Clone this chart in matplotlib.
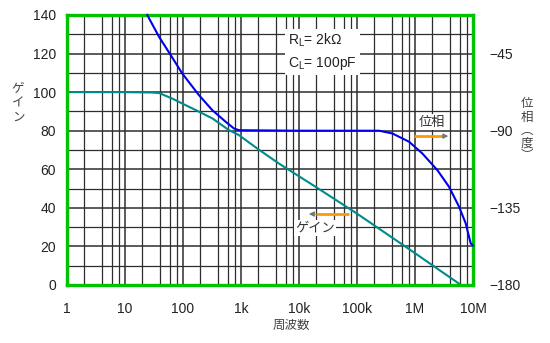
import numpy as np
import matplotlib
matplotlib.use("Agg")
import matplotlib.pyplot as plt
from matplotlib.ticker import FixedLocator, NullFormatter

plt.rcParams['font.family'] = ['Liberation Sans', 'Noto Sans CJK JP', 'DejaVu Sans']

# gain (dB) vs frequency
gain_freq = [1, 10, 30, 39, 65, 97, 166, 320, 620, 924, 1.9e3, 4.5e3, 1.96e4, 1e5, 1e6, 1.96e6, 6.2e6]
gain_db = [100, 100, 99.8, 99.5, 96.7, 94.1, 90.7, 86.4, 80.3, 77.7, 70.8, 63, 50.8, 37, 16.5, 10.4, 0]

# phase (deg) vs frequency
phase_freq = [24.2, 38.6, 61.4, 97, 189, 320, 545, 757, 924, 1e4, 1e5, 2.4e5, 4.07e5, 7.88e5,
              1.34e6, 2.43e6, 3.86e6, 5.74e6, 7.48e6, 9.12e6, 1e7]
phase_deg = [-22.5, -35.2, -45.9, -56.6, -69.3, -78, -84.8, -88.7, -89.7, -90, -90, -90, -91.6, -96.4,
             -103.3, -113, -122.7, -134.3, -144, -155.7, -157]

x_ticks = [1, 10, 100, 1e3, 1e4, 1e5, 1e6, 1e7]
x_labels = ['1', '10', '100', '1k', '10k', '100k', '1M', '10M']
left_ticks = [0, 20, 40, 60, 80, 100, 120, 140]
right_ticks = [-180, -135, -90, -45]
right_labels = ['\u2212180', '\u2212135', '\u221290', '\u221245']

green = '#00c400'
gridc = '#2e2e2e'
orange = '#ff9900'

fig = plt.figure(figsize=(5.5, 3.43), dpi=100)
ax = fig.add_axes([67 / 550, 1 - 285 / 343, 406 / 550, 270 / 343])

ax.set_xscale('log')
ax.set_xlim(1, 1e7)
ax.set_ylim(0, 140)

# log grid: decades plus lines at 2, 4, 6, 8
minor_x = [m * 10 ** d for d in range(7) for m in (2, 4, 6, 8)]
ax.xaxis.set_major_locator(FixedLocator(x_ticks))
ax.xaxis.set_minor_locator(FixedLocator(minor_x))
ax.xaxis.set_minor_formatter(NullFormatter())
ax.set_xticklabels(x_labels)
ax.set_yticks(left_ticks)
ax.set_yticks(range(10, 140, 20), minor=True)
ax.grid(True, which='major', color=gridc, lw=1.1)
ax.grid(True, which='minor', color=gridc, lw=0.9)
ax.tick_params(which='both', length=0, labelsize=10, colors='#222')
ax.tick_params(axis='x', pad=12)
ax.tick_params(axis='y', pad=8)

for s in ax.spines.values():
    s.set_color(green)
    s.set_linewidth(2.4)
    s.set_zorder(5)

ax.plot(gain_freq, gain_db, color='#008b8b', lw=1.5, zorder=4)

ax2 = ax.twinx()
ax2.set_ylim(-180, -22.5)
ax2.set_yticks(right_ticks)
ax2.set_yticklabels(right_labels)
ax2.tick_params(length=0, labelsize=10, colors='#222', pad=12)
for s in ax2.spines.values():
    s.set_visible(False)
ax2.plot(phase_freq, phase_deg, color='#0000ee', lw=1.5, zorder=4, clip_on=False)

# load conditions
ax.text(6.5e3, 121, 'R$_\\mathregular{L}$= 2k\u03a9\nC$_\\mathregular{L}$= 100pF', fontsize=10,
        color='#222', va='center', ha='left', linespacing=1.55,
        bbox=dict(boxstyle='square,pad=0.2', fc='white', ec='none'), zorder=6)

# curve labels with pointers
ax.text(2.0e6, 84.5, '位相', fontsize=9.5, color='#333', ha='center', va='center',
        family=['Noto Sans CJK JP'],
        bbox=dict(boxstyle='square,pad=0.1', fc='white', ec='none'), zorder=6)
ax.plot([9.5e5, 2.9e6], [77.2, 77.2], color=orange, lw=2, zorder=6, solid_capstyle='butt')
ax.annotate('', xy=(4.2e6, 77.2), xytext=(2.7e6, 77.2),
            arrowprops=dict(arrowstyle='-|>', color='#777', lw=1, mutation_scale=7), zorder=6)

ax.plot([1.96e4, 7.3e4], [36.8, 36.8], color=orange, lw=2, zorder=6, solid_capstyle='butt')
ax.annotate('', xy=(1.32e4, 36.8), xytext=(2.1e4, 36.8),
            arrowprops=dict(arrowstyle='-|>', color='#777', lw=1, mutation_scale=7), zorder=6)
ax.text(1.9e4, 29.5, 'ゲイン', fontsize=9.5, color='#333', ha='center', va='center',
        family=['Noto Sans CJK JP'],
        bbox=dict(boxstyle='square,pad=0.1', fc='white', ec='none'), zorder=6)

# axis titles, written vertically for the y axes
fig.text(18 / 550, 1 - 103 / 343, 'ゲ\nイ\nン', fontsize=9, color='#444', ha='center', va='center',
         family=['Noto Sans CJK JP'], linespacing=1.15)
fig.text(527 / 550, 1 - 130 / 343, '位\n相\n\ufe35\n度\n\ufe36', fontsize=9, color='#444',
         ha='center', va='center', family=['Noto Sans CJK JP'], linespacing=1.0)
fig.text(291 / 550, 1 - 325 / 343, '周波数', fontsize=9, color='#444', ha='center', va='center',
         family=['Noto Sans CJK JP'])

fig.savefig('out.png', dpi=100)
